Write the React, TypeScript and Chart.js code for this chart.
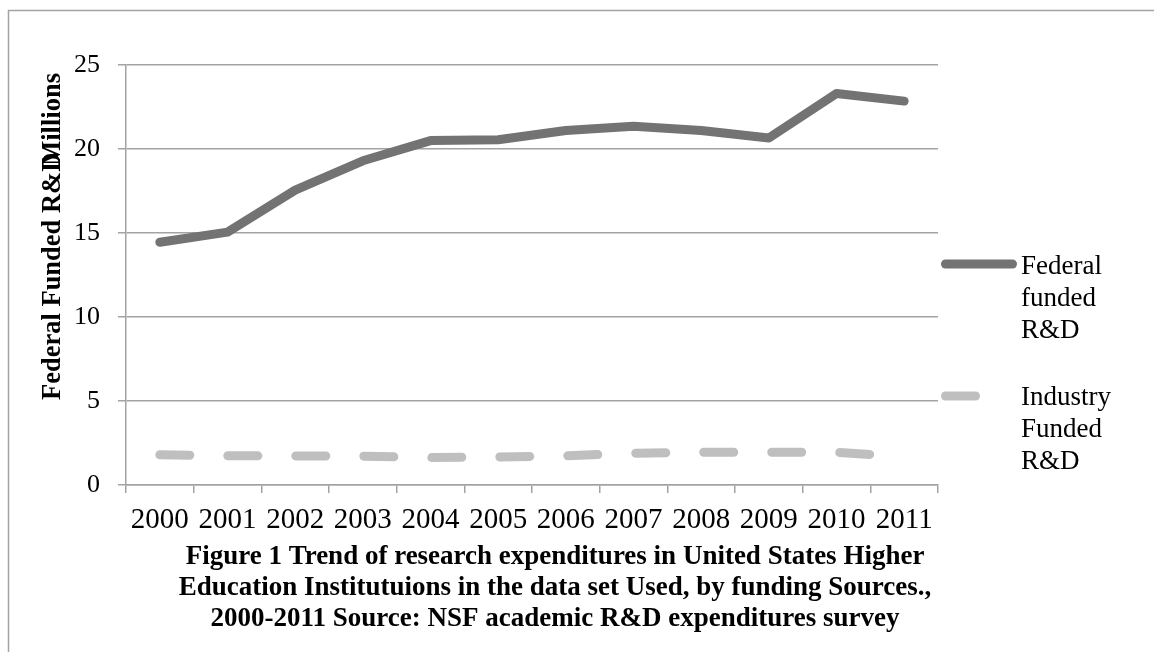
import React, { useEffect, useRef } from "react";
import { Chart, registerables } from "chart.js";

Chart.register(...registerables);

const years = ["2000", "2001", "2002", "2003", "2004", "2005", "2006", "2007", "2008", "2009", "2010", "2011"];
const federalFunded = [14.45, 15.05, 17.55, 19.3, 20.5, 20.55, 21.1, 21.35, 21.1, 20.65, 23.3, 22.85];
const industryFunded = [1.8, 1.74, 1.73, 1.72, 1.63, 1.67, 1.74, 1.89, 1.95, 1.95, 1.95, 1.68];
const yTicks = [0, 5, 10, 15, 20, 25];
const seriesNames = [["Federal", "funded", "R&D"], ["Industry", "Funded", "R&D"]];
const yTitleMain = "Federal Funded R&D";
const yTitleOverlay = "Millions";
const captionLines = [
  "Figure 1 Trend of research expenditures in United States Higher",
  "Education Institutuions in the data set Used, by funding Sources.,",
  "2000-2011 Source: NSF academic R&D expenditures survey",
];

const FED_COLOR = "#737373";
const IND_COLOR = "#bfbfbf";
const GRID = "#a3a3a3";
const SERIF = "'Liberation Serif', 'Times New Roman', serif";
const IND_DASH = [30, 38];

const extras = {
  id: "extras",
  afterDraw(chart: any) {
    const ctx = chart.ctx as CanvasRenderingContext2D;
    ctx.save();
    // frame
    ctx.strokeStyle = GRID;
    ctx.lineWidth = 1.5;
    ctx.beginPath();
    ctx.moveTo(8.5, 652);
    ctx.lineTo(8.5, 10.5);
    ctx.lineTo(1154, 10.5);
    ctx.stroke();

    // y-axis title (two overlapping texts, as in the original)
    ctx.fillStyle = "#000";
    ctx.font = `bold 26.5px ${SERIF}`;
    ctx.textBaseline = "alphabetic";
    ctx.save();
    ctx.translate(60, 400);
    ctx.rotate(-Math.PI / 2);
    ctx.textAlign = "left";
    ctx.fillText(yTitleMain, 0, 0);
    ctx.restore();
    ctx.save();
    ctx.translate(60, 73);
    ctx.rotate(-Math.PI / 2);
    ctx.textAlign = "right";
    ctx.fillText(yTitleOverlay, 0, 0);
    ctx.restore();

    // legend
    const legendY = [264, 396];
    const colors = [FED_COLOR, IND_COLOR];
    const dashes = [[], IND_DASH];
    const textTops = [267, 398];
    for (let i = 0; i < 2; i++) {
      ctx.save();
      ctx.strokeStyle = colors[i];
      ctx.lineWidth = 9;
      ctx.lineCap = "round";
      ctx.setLineDash(dashes[i]);
      ctx.beginPath();
      ctx.moveTo(945.5, legendY[i]);
      ctx.lineTo(1012.5, legendY[i]);
      ctx.stroke();
      ctx.restore();
      ctx.font = `27px ${SERIF}`;
      ctx.textAlign = "left";
      ctx.textBaseline = "middle";
      ctx.fillStyle = "#000";
      seriesNames[i].forEach((t, k) => ctx.fillText(t, 1021, textTops[i] + k * 31.8));
    }

    // caption
    ctx.font = `bold 27px ${SERIF}`;
    ctx.textAlign = "center";
    ctx.textBaseline = "middle";
    captionLines.forEach((t, k) => ctx.fillText(t, 555, 557 + k * 31));
    ctx.restore();
  },
};

export default function App() {
  const ref = useRef<HTMLCanvasElement | null>(null);
  useEffect(() => {
    if (!ref.current) return;
    const chart = new Chart(ref.current, {
      type: "line",
      data: {
        labels: years,
        datasets: [
          {
            label: "Federal funded R&D",
            data: federalFunded,
            borderColor: FED_COLOR,
            backgroundColor: FED_COLOR,
            borderWidth: 9,
            borderCapStyle: "round",
            borderJoinStyle: "round",
            pointRadius: 0,
            tension: 0,
          },
          {
            label: "Industry Funded R&D",
            data: industryFunded,
            borderColor: IND_COLOR,
            backgroundColor: IND_COLOR,
            borderWidth: 9,
            borderCapStyle: "round",
            borderJoinStyle: "round",
            borderDash: IND_DASH,
            pointRadius: 0,
            tension: 0,
          },
        ],
      },
      options: {
        animation: false,
        responsive: false,
        maintainAspectRatio: false,
        layout: { padding: { left: 0, top: 65, right: 216, bottom: 117 } },
        plugins: { legend: { display: false }, tooltip: { enabled: false }, title: { display: false } },
        scales: {
          x: {
            offset: true,
            grid: { offset: true, drawOnChartArea: false, color: GRID, lineWidth: 1.5, tickLength: 8 },
            border: { color: GRID, width: 1.5 },
            ticks: { color: "#000", font: { family: SERIF, size: 29 }, padding: 10, maxRotation: 0, autoSkip: false },
            afterFit(scale: any) {
              scale.height = 50;
            },
          },
          y: {
            min: 0,
            max: 25,
            afterBuildTicks(scale: any) {
              scale.ticks = yTicks.map((v) => ({ value: v }));
            },
            grid: { color: GRID, lineWidth: 1.5, tickLength: 8 },
            border: { color: GRID, width: 1.5 },
            ticks: { color: "#000", font: { family: SERIF, size: 26 }, padding: 18 },
            afterFit(scale: any) {
              scale.width = 126;
            },
          },
        },
      },
      plugins: [extras],
    });
    return () => chart.destroy();
  }, []);
  return (
    <div style={{ position: "absolute", left: 0, top: 0, width: 1154, height: 652, background: "#fff" }}>
      <canvas ref={ref} width={1154} height={652} style={{ width: 1154, height: 652 }} />
    </div>
  );
}
